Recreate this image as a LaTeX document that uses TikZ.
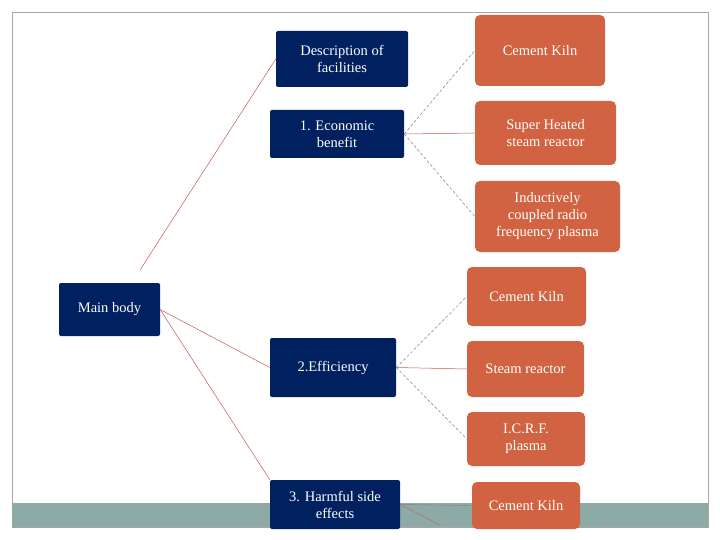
\documentclass[tikz,border=0pt]{standalone}
\usepackage{fontspec}
\setmainfont{Liberation Serif}
\definecolor{navy}{RGB}{0,32,96}
\definecolor{org}{RGB}{209,99,66}
\definecolor{teal}{RGB}{141,170,166}
\definecolor{lnk}{RGB}{200,90,80}
\begin{document}
\begin{tikzpicture}[x=1pt,y=-1pt,
  nb/.style={fill=navy,text=white,rounded corners=2pt,align=center,inner sep=0pt,font=\fontsize{14.5}{17}\selectfont},
  ob/.style={fill=org,text=white,rounded corners=5pt,align=center,inner sep=0pt,font=\fontsize{14.5}{17}\selectfont},
  ln/.style={lnk,line width=0.5pt},
  dl/.style={gray,line width=0.5pt,densely dashed}]
\useasboundingbox (0,0) rectangle (720,540);
\fill[white] (0,0) rectangle (720,540);
\draw[gray!70] (12,12) rectangle (708,527);
\fill[teal] (12,503) rectangle (708,527);
\node[nb,minimum width=101,minimum height=53] (main) at (109.5,309.5) {Main body};
\node[nb,minimum width=132,minimum height=56] (desc) at (342,59) {Description of\\facilities};
\node[nb,minimum width=134,minimum height=48] (econ) at (337,134) {1. Economic\\benefit};
\node[nb,minimum width=126,minimum height=59] (eff) at (333,367.5) {2.Efficiency};
\node[nb,minimum width=130,minimum height=49] (harm) at (335,504.5) {3. Harmful side\\effects};
\node[ob,minimum width=130,minimum height=71] (o1) at (540,50.5) {Cement Kiln};
\node[ob,minimum width=141,minimum height=64] (o2) at (545.5,133) {Super Heated\\steam reactor};
\node[ob,minimum width=145,minimum height=71] (o3) at (547.5,216.5) {Inductively\\coupled radio\\frequency plasma};
\node[ob,minimum width=119,minimum height=59] (o4) at (526.5,296.5) {Cement Kiln};
\node[ob,minimum width=117,minimum height=56] (o5) at (525.5,369) {Steam reactor};
\node[ob,minimum width=118,minimum height=54] (o6) at (526,439) {I.C.R.F.\\plasma};
\node[ob,minimum width=108,minimum height=47] (o7) at (526,505.5) {Cement Kiln};
\coordinate (m1) at (140,270);
\coordinate (hx) at (440,525);
\draw[ln] (m1) -- (desc.west);
\draw[ln] (main.east) -- (eff.west);
\draw[ln] (main.east) -- (harm.north west);
\draw[dl] (econ.east) -- (o1.west);
\draw[ln] (econ.east) -- (o2.west);
\draw[dl] (econ.east) -- (o3.west);
\draw[dl] (eff.east) -- (o4.west);
\draw[ln] (eff.east) -- (o5.west);
\draw[dl] (eff.east) -- (o6.west);
\draw[gray] (harm.east) -- (o7.west);
\draw[lnk!70!gray] (harm.east) -- (hx);
\end{tikzpicture}
\end{document}
